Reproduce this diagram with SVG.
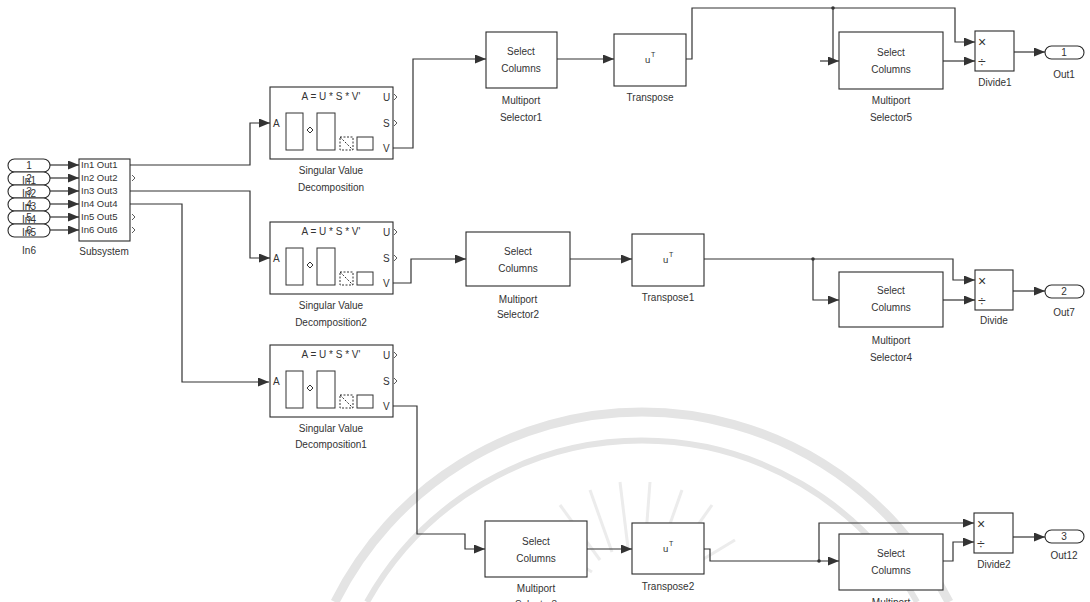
<svg xmlns="http://www.w3.org/2000/svg" width="1090" height="602" viewBox="0 0 1090 602">
<defs>
<style>
.blk{fill:#fff;stroke:#2a2a2a;stroke-width:1.1}
.ln{fill:none;stroke:#333;stroke-width:1.2}
.ar{marker-end:url(#ah)}
.wm{fill:none;stroke:#e4e4e4}
text{font-family:"Liberation Sans",Arial,sans-serif;fill:#333}
.t{font-size:10px;text-anchor:middle}
.p{font-size:10px}
.s{font-size:9.5px}
.big{font-size:14px}
</style>
<marker id="ah" markerWidth="11" markerHeight="9" refX="11" refY="4.5" orient="auto" markerUnits="userSpaceOnUse"><path d="M0,0 L11,4.5 L0,9 z" fill="#333"/></marker>
<g id="svdicon">
<rect class="blk" x="0" y="0" width="123" height="72"/>
<text class="p" x="61" y="13" text-anchor="middle">A = U * S * V'</text>
<text class="p" x="3" y="40">A</text>
<text class="p" x="113" y="14">U</text>
<text class="p" x="113" y="40">S</text>
<text class="p" x="113" y="65">V</text>
<path d="M124,7 l3,3 l-3,3 M124,33 l3,3 l-3,3" fill="none" stroke="#333" stroke-width="0.8"/>
<rect x="16" y="26" width="17" height="37" fill="none" stroke="#333"/>
<path d="M37,43 l3,-3 l3,3 l-3,3 z" fill="none" stroke="#333"/>
<rect x="47" y="26" width="18" height="37" fill="none" stroke="#333"/>
<rect x="70" y="50" width="13" height="13" fill="none" stroke="#333" stroke-dasharray="2,1.5"/>
<path d="M70,50 L83,63" stroke="#333" stroke-dasharray="2,1.5"/>
<rect x="87" y="50" width="16" height="13" fill="none" stroke="#333"/>
</g>
</defs>
<rect width="1090" height="602" fill="#fff"/>

<g id="watermark">
<path class="wm" stroke-width="9" d="M335,602 A343,343 0 0 1 949,602"/>
<path class="wm" stroke-width="6" d="M367,602 A315,315 0 0 1 917,602"/>
<g stroke="#ececec" stroke-width="3">
<line x1="600" y1="560" x2="560" y2="505"/><line x1="612" y1="552" x2="590" y2="490"/>
<line x1="628" y1="548" x2="620" y2="482"/><line x1="645" y1="548" x2="650" y2="482"/>
<line x1="660" y1="552" x2="682" y2="490"/><line x1="673" y1="560" x2="712" y2="505"/>
<line x1="592" y1="572" x2="540" y2="540"/><line x1="682" y1="572" x2="735" y2="540"/>
</g>
</g>

<g id="connectors">
<path class="ln ar" d="M50,165 H79"/>
<path class="ln ar" d="M50,178 H79"/>
<path class="ln ar" d="M50,191 H79"/>
<path class="ln ar" d="M50,204 H79"/>
<path class="ln ar" d="M50,217 H79"/>
<path class="ln ar" d="M50,230 H79"/>
<path class="ln ar" d="M130,165 H250 V123 H270"/>
<path class="ln ar" d="M130,191 H250 V258 H270"/>
<path class="ln ar" d="M130,204 H182 V382 H269"/>
<path class="ln ar" d="M393,148 H413 V59 H486"/>
<path class="ln ar" d="M557,59 H614"/>
<path class="ln ar" d="M686,59 H692 V8 H955 V42 H975"/>
<path class="ln ar" d="M833,8 V61 H839"/>
<path class="ln" d="M820,61 H833"/>
<circle cx="833" cy="8" r="1.8" fill="#333"/>
<path class="ln ar" d="M943,61 H975"/>
<path class="ln ar" d="M1014,52 H1045"/>
<path class="ln ar" d="M393,283 H411 V259 H466"/>
<path class="ln ar" d="M570,259 H632"/>
<path class="ln ar" d="M704,259 H953 V280 H975"/>
<path class="ln ar" d="M813,259 V300 H839"/>
<circle cx="813" cy="259" r="1.8" fill="#333"/>
<path class="ln ar" d="M943,300 H975"/>
<path class="ln ar" d="M1013,291 H1045"/>
<path class="ln ar" d="M393,406 H417 V534 H465 V549 H485"/>
<path class="ln ar" d="M587,549 H632"/>
<path class="ln ar" d="M704,549 H710 V561 H839"/>
<path class="ln ar" d="M819,561 V523 H974"/>
<circle cx="819" cy="561" r="1.8" fill="#333"/>
<path class="ln ar" d="M943,561 H953 V542 H974"/>
<path class="ln ar" d="M1013,537 H1045"/>
</g>

<g id="inports">
<rect class="blk" x="8" y="159" width="42" height="13" rx="6.5"/><text class="t" x="29" y="169">1</text>
<rect class="blk" x="8" y="172" width="42" height="13" rx="6.5"/><text class="t" x="29" y="182">2</text>
<rect class="blk" x="8" y="185" width="42" height="13" rx="6.5"/><text class="t" x="29" y="195">3</text>
<rect class="blk" x="8" y="198" width="42" height="13" rx="6.5"/><text class="t" x="29" y="208">4</text>
<rect class="blk" x="8" y="211" width="42" height="13" rx="6.5"/><text class="t" x="29" y="221">5</text>
<rect class="blk" x="8" y="224" width="42" height="13" rx="6.5"/><text class="t" x="29" y="234">6</text>
<text class="t" x="29" y="184">In1</text>
<text class="t" x="29" y="197">In2</text>
<text class="t" x="29" y="210">In3</text>
<text class="t" x="29" y="223">In4</text>
<text class="t" x="29" y="236">In5</text>
<text class="t" x="29" y="254">In6</text>
</g>

<g id="subsystem">
<rect class="blk" x="79" y="159" width="51" height="82"/>
<text class="s" x="81" y="168">In1 Out1</text>
<text class="s" x="81" y="181">In2 Out2</text>
<text class="s" x="81" y="194">In3 Out3</text>
<text class="s" x="81" y="207">In4 Out4</text>
<text class="s" x="81" y="220">In5 Out5</text>
<text class="s" x="81" y="233">In6 Out6</text>
<path d="M132,175 l3,3 l-3,3 M132,214 l3,3 l-3,3 M132,227 l3,3 l-3,3" fill="none" stroke="#333" stroke-width="0.8"/>
<text class="t" x="104" y="255">Subsystem</text>
</g>

<g id="svd">
<use href="#svdicon" x="270" y="87"/>
<text class="t" x="331" y="174">Singular Value</text>
<text class="t" x="331" y="191">Decomposition</text>
</g>
<g id="svd2">
<use href="#svdicon" x="270" y="222"/>
<text class="t" x="331" y="309">Singular Value</text>
<text class="t" x="331" y="326">Decomposition2</text>
</g>
<g id="svd1">
<use href="#svdicon" x="270" y="345"/>
<text class="t" x="331" y="432">Singular Value</text>
<text class="t" x="331" y="448">Decomposition1</text>
</g>

<g id="sel1">
<rect class="blk" x="486" y="32" width="71" height="56"/>
<text class="t" x="521" y="55">Select</text><text class="t" x="521" y="72">Columns</text>
<text class="t" x="521" y="104">Multiport</text><text class="t" x="521" y="121">Selector1</text>
</g>
<g id="transpose">
<rect class="blk" x="614" y="34" width="72" height="52"/>
<text class="s" x="645" y="63">u</text><text style="font-size:7px" x="651" y="57">T</text>
<text class="t" x="650" y="101">Transpose</text>
</g>
<g id="sel5">
<rect class="blk" x="839" y="32" width="104" height="57"/>
<text class="t" x="891" y="56">Select</text><text class="t" x="891" y="73">Columns</text>
<text class="t" x="891" y="104">Multiport</text><text class="t" x="891" y="121">Selector5</text>
</g>
<g id="divide1">
<rect class="blk" x="975" y="31" width="39" height="40"/>
<text class="big" x="978" y="47">×</text><text class="big" x="978" y="67">÷</text>
<text class="t" x="995" y="86">Divide1</text>
</g>
<g id="out1">
<rect class="blk" x="1045" y="46" width="39" height="13" rx="6.5"/>
<text class="t" x="1064" y="56">1</text>
<text class="t" x="1064" y="78">Out1</text>
</g>

<g id="sel2">
<rect class="blk" x="466" y="232" width="104" height="54"/>
<text class="t" x="518" y="255">Select</text><text class="t" x="518" y="272">Columns</text>
<text class="t" x="518" y="303">Multiport</text><text class="t" x="518" y="318">Selector2</text>
</g>
<g id="transpose1">
<rect class="blk" x="632" y="234" width="72" height="52"/>
<text class="s" x="663" y="263">u</text><text style="font-size:7px" x="669" y="257">T</text>
<text class="t" x="668" y="301">Transpose1</text>
</g>
<g id="sel4">
<rect class="blk" x="839" y="272" width="104" height="55"/>
<text class="t" x="891" y="294">Select</text><text class="t" x="891" y="311">Columns</text>
<text class="t" x="891" y="344">Multiport</text><text class="t" x="891" y="361">Selector4</text>
</g>
<g id="divide">
<rect class="blk" x="975" y="270" width="38" height="40"/>
<text class="big" x="978" y="286">×</text><text class="big" x="978" y="306">÷</text>
<text class="t" x="994" y="324">Divide</text>
</g>
<g id="out7">
<rect class="blk" x="1045" y="285" width="39" height="13" rx="6.5"/>
<text class="t" x="1064" y="295">2</text>
<text class="t" x="1064" y="316">Out7</text>
</g>

<g id="sel3">
<rect class="blk" x="485" y="521" width="102" height="56"/>
<text class="t" x="536" y="545">Select</text><text class="t" x="536" y="562">Columns</text>
<text class="t" x="536" y="592">Multiport</text><text class="t" x="536" y="608">Selector3</text>
</g>
<g id="transpose2">
<rect class="blk" x="632" y="523" width="72" height="51"/>
<text class="s" x="663" y="552">u</text><text style="font-size:7px" x="669" y="546">T</text>
<text class="t" x="668" y="590">Transpose2</text>
</g>
<g id="sel6">
<rect class="blk" x="839" y="534" width="104" height="56"/>
<text class="t" x="891" y="557">Select</text><text class="t" x="891" y="574">Columns</text>
<text class="t" x="891" y="606">Multiport</text>
</g>
<g id="divide2">
<rect class="blk" x="974" y="513" width="39" height="40"/>
<text class="big" x="977" y="529">×</text><text class="big" x="977" y="549">÷</text>
<text class="t" x="994" y="568">Divide2</text>
</g>
<g id="out12">
<rect class="blk" x="1045" y="530" width="39" height="13" rx="6.5"/>
<text class="t" x="1064" y="540">3</text>
<text class="t" x="1064" y="559">Out12</text>
</g>
</svg>
